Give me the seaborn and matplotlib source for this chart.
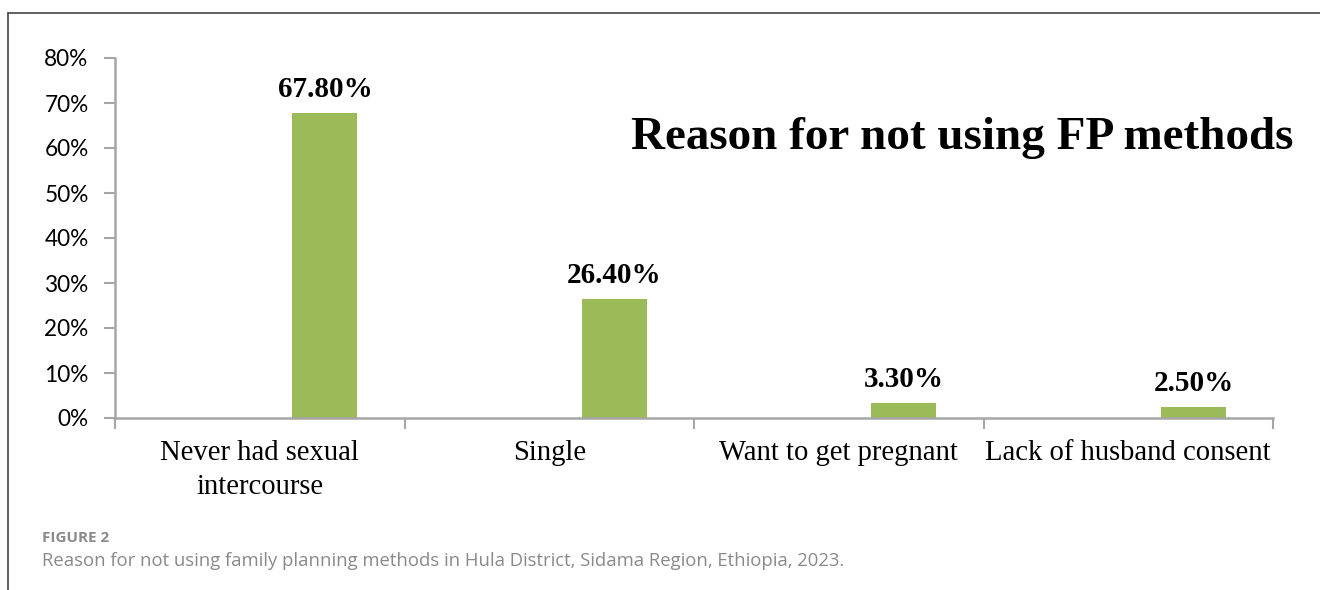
import matplotlib
matplotlib.use("Agg")
import matplotlib.pyplot as plt
from matplotlib.lines import Line2D
import seaborn as sns
import pandas as pd

categories = ["Never had sexual\nintercourse", "Single", "Want to get pregnant", "Lack of husband consent"]
values = [67.80, 26.40, 3.30, 2.50]
value_labels = ["67.80%", "26.40%", "3.30%", "2.50%"]
y_ticks = [0, 10, 20, 30, 40, 50, 60, 70, 80]
y_tick_labels = ["0%", "10%", "20%", "30%", "40%", "50%", "60%", "70%", "80%"]
series_order = ["Series1", "Series2", "Series3"]
title = "Reason for not using FP methods"
fig_label = "FIGURE 2"
caption = "Reason for not using family planning methods in Hula District, Sidama Region, Ethiopia, 2023."

sns.set_theme(style="white")
plt.rcParams["font.family"] = ["Liberation Serif", "DejaVu Serif"]

df = pd.DataFrame({"category": categories, "value": values, "series": ["Series3"] * len(values)})

W, H = 1320, 590
fig = plt.figure(figsize=(W / 100, H / 100), dpi=100)
ax = fig.add_axes([115 / W, (H - 418) / H, (1273 - 115) / W, (418 - 58) / H])

sns.barplot(data=df, x="category", y="value", hue="series", hue_order=series_order,
            order=categories, palette=["#9BBB59"] * 3, width=0.675, dodge=True,
            legend=False, ax=ax, linewidth=0, saturation=1)

for cont in ax.containers:
    if len(cont) == len(values):
        ax.bar_label(cont, labels=value_labels, padding=7, fontsize=21, fontweight="bold",
                     family="Liberation Serif", color="black")

ax.set_xlim(-0.5, len(categories) - 0.5)
ax.set_ylim(0, 80)
ax.set_yticks(y_ticks)
ax.set_yticklabels(y_tick_labels, family="Lato", fontsize=16.3, color="black")
ax.set_xticks(range(len(categories)))
ax.set_xticklabels(categories, family="Liberation Serif", fontsize=20.6, color="black", linespacing=1.4)
ax.set_xticks([i - 0.5 for i in range(len(categories) + 1)], minor=True)
ax.tick_params(axis="x", which="major", length=0, pad=16)
ax.tick_params(axis="x", which="minor", length=8, width=1.5, color="#A6A6A6", direction="out", bottom=True)
ax.tick_params(axis="y", which="major", length=8, width=1.5, color="#A6A6A6", direction="out", left=True, pad=11)
ax.set_xlabel("")
ax.set_ylabel("")
for s in ["top", "right"]:
    ax.spines[s].set_visible(False)
for s in ["left", "bottom"]:
    ax.spines[s].set_color("#A6A6A6")
    ax.spines[s].set_linewidth(1.8)

fig.text(1293 / W, (H - 138) / H, title, ha="right", va="center", fontsize=33.9,
         fontweight="bold", family="Liberation Serif", color="black")

fig.text(42 / W, (H - 538) / H, fig_label, ha="left", va="center", fontsize=11,
         fontweight="bold", family="Open Sans", color="#8a8a8a")
fig.text(42 / W, (H - 561) / H, caption, ha="left", va="center", fontsize=13.3,
         family="Open Sans", color="#8a8a8a")

fig.add_artist(Line2D([8 / W, 1.0], [(H - 13) / H, (H - 13) / H], color="#444444", linewidth=1.2, transform=fig.transFigure))
fig.add_artist(Line2D([8 / W, 8 / W], [(H - 13) / H, 0], color="#444444", linewidth=1.2, transform=fig.transFigure))

fig.savefig("out.png", dpi=100)
